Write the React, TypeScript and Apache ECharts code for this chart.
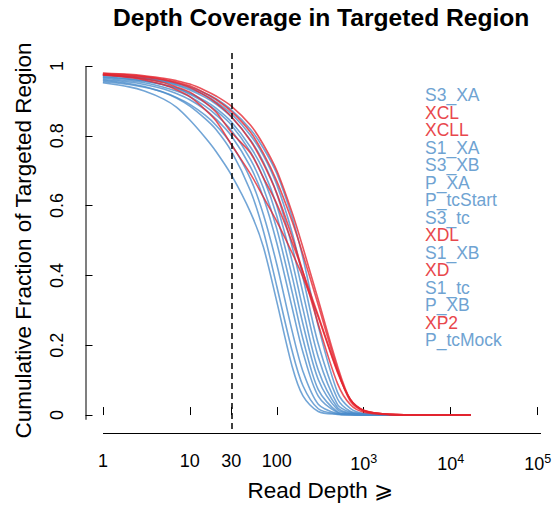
import React, { useEffect, useRef } from "react";
import * as echarts from "echarts";

// Read depth thresholds (x) shared by every sample curve
const depths = [1, 2, 3, 5, 7, 10, 15, 20, 30, 50, 70, 100, 150, 200, 300, 500, 700, 1000, 2000, 5000, 17000];

// Cumulative fraction of the targeted region covered at >= each depth
const S3_XA = [0.975, 0.97, 0.966, 0.958, 0.95, 0.94, 0.922, 0.906, 0.874, 0.818, 0.765, 0.692, 0.567, 0.45, 0.255, 0.065, 0.019, 0.004, 0, 0, 0];
const S1_XA = [0.974, 0.969, 0.964, 0.956, 0.947, 0.935, 0.916, 0.897, 0.863, 0.801, 0.744, 0.66, 0.523, 0.394, 0.204, 0.046, 0.011, 0.003, 0, 0, 0];
const S3_XB = [0.973, 0.968, 0.963, 0.954, 0.945, 0.931, 0.91, 0.891, 0.854, 0.787, 0.725, 0.634, 0.483, 0.35, 0.166, 0.03, 0.008, 0.002, 0, 0, 0];
const P_XA = [0.968, 0.962, 0.957, 0.946, 0.937, 0.922, 0.9, 0.879, 0.84, 0.767, 0.701, 0.6, 0.441, 0.304, 0.129, 0.021, 0.005, 0.002, 0, 0, 0];
const P_tcStart = [0.969, 0.963, 0.957, 0.946, 0.936, 0.919, 0.895, 0.872, 0.831, 0.753, 0.68, 0.57, 0.398, 0.261, 0.102, 0.015, 0.004, 0.001, 0, 0, 0];
const S3_tc = [0.965, 0.958, 0.952, 0.939, 0.928, 0.912, 0.885, 0.86, 0.816, 0.732, 0.651, 0.534, 0.353, 0.218, 0.073, 0.009, 0.003, 0.001, 0, 0, 0];
const S1_XB = [0.961, 0.954, 0.947, 0.934, 0.921, 0.903, 0.875, 0.848, 0.8, 0.71, 0.624, 0.493, 0.308, 0.18, 0.054, 0.007, 0.002, 0.001, 0, 0, 0];
const S1_tc = [0.955, 0.947, 0.939, 0.925, 0.91, 0.89, 0.859, 0.83, 0.776, 0.676, 0.575, 0.432, 0.241, 0.125, 0.031, 0.004, 0.001, 0, 0, 0, 0];
const P_XB = [0.959, 0.95, 0.941, 0.924, 0.908, 0.885, 0.849, 0.818, 0.756, 0.641, 0.528, 0.369, 0.184, 0.084, 0.018, 0.003, 0.001, 0, 0, 0, 0];
const P_tcMock = [0.952, 0.94, 0.928, 0.905, 0.882, 0.845, 0.795, 0.755, 0.688, 0.58, 0.482, 0.325, 0.14, 0.055, 0.01, 0.002, 0.001, 0, 0, 0, 0];
const XCL = [0.98, 0.976, 0.972, 0.965, 0.958, 0.948, 0.93, 0.914, 0.885, 0.83, 0.775, 0.7, 0.58, 0.48, 0.33, 0.14, 0.045, 0.013, 0.002, 0, 0];
const XCLL = [0.978, 0.974, 0.97, 0.962, 0.954, 0.943, 0.922, 0.904, 0.87, 0.81, 0.75, 0.67, 0.555, 0.46, 0.315, 0.13, 0.04, 0.011, 0.002, 0, 0];
const XDL = [0.976, 0.972, 0.968, 0.96, 0.951, 0.938, 0.915, 0.894, 0.855, 0.785, 0.72, 0.635, 0.51, 0.41, 0.26, 0.09, 0.03, 0.008, 0.001, 0, 0];
const XD = [0.975, 0.969, 0.963, 0.952, 0.94, 0.925, 0.895, 0.868, 0.81, 0.75, 0.68, 0.605, 0.495, 0.41, 0.285, 0.125, 0.045, 0.013, 0.002, 0, 0];
const XP2 = [0.974, 0.967, 0.96, 0.946, 0.932, 0.912, 0.875, 0.843, 0.775, 0.69, 0.625, 0.555, 0.465, 0.395, 0.28, 0.122, 0.045, 0.014, 0.002, 0, 0];

// Sample groups
const blueSamples: [string, number[]][] = [
  ["S3_XA", S3_XA], ["S1_XA", S1_XA], ["S3_XB", S3_XB], ["P_XA", P_XA], ["P_tcStart", P_tcStart],
  ["S3_tc", S3_tc], ["S1_XB", S1_XB], ["S1_tc", S1_tc], ["P_XB", P_XB], ["P_tcMock", P_tcMock],
];
const redSamples: [string, number[]][] = [
  ["XCL", XCL], ["XCLL", XCLL], ["XDL", XDL], ["XD", XD], ["XP2", XP2],
];

// Legend order
const legendOrder = [
  "S3_XA", "XCL", "XCLL", "S1_XA", "S3_XB", "P_XA", "P_tcStart", "S3_tc",
  "XDL", "S1_XB", "XD", "S1_tc", "P_XB", "XP2", "P_tcMock",
];
const redNames = ["XCL", "XCLL", "XDL", "XD", "XP2"];

// Axis ticks
const xTicks = [1, 10, 30, 100, 1000, 10000, 100000];
const yTicks = [0, 0.2, 0.4, 0.6, 0.8, 1];
const cutoff = 30;

const FONT = "Liberation Sans, Arial, Helvetica, sans-serif";
const BLUE_LINE = "rgba(74, 140, 202, 0.78)";
const RED_LINE = "rgba(228, 36, 46, 0.78)";
const BLUE_TEXT = "#6fa3d2";
const RED_TEXT = "#e8474c";

// plotting region padded 4% beyond the data range on each side
const X_MIN = Math.pow(10, -0.2);
const X_MAX = Math.pow(10, 5.2);
const Y_MIN = -0.04;
const Y_MAX = 1.04;

// chart size and plotting grid (pixels)
const W = 555;
const H = 507;
const G_LEFT = 85.5;
const G_RIGHT = -3.5;
const G_TOP = 52;
const G_BOTTOM = 73;

// pixel position of a value on each axis of that grid
const LOG_LO = Math.log10(X_MIN);
const LOG_HI = Math.log10(X_MAX);
const xPx = (v: number) =>
  G_LEFT + ((Math.log10(v) - LOG_LO) / (LOG_HI - LOG_LO)) * (W - G_LEFT - G_RIGHT);
const yPx = (v: number) => H - G_BOTTOM - ((v - Y_MIN) / (Y_MAX - Y_MIN)) * (H - G_TOP - G_BOTTOM);

export default function App() {
  const ref = useRef<HTMLDivElement>(null);

  useEffect(() => {
    if (!ref.current) return;
    const chart = echarts.init(ref.current, null, { renderer: "svg" });

    const curve = (name: string, vals: number[], color: string) => ({
      name,
      type: "line",
      data: depths.map((d, i) => [d, vals[i]]),
      showSymbol: false,
      symbol: "none",
      smooth: 0.3,
      lineStyle: { color, width: 1.6 },
      itemStyle: { color },
      z: 2,
    });

    const series: any[] = [
      ...blueSamples.map(([n, v]) => curve(n, v, BLUE_LINE)),
      ...redSamples.map(([n, v]) => curve(n, v, RED_LINE)),
    ];

    // depth cut-off marker
    series[0].markLine = {
      silent: true,
      symbol: ["none", "none"],
      label: { show: false },
      lineStyle: { color: "#000", type: [6, 4], width: 1.5 },
      data: [{ xAxis: cutoff }],
    };

    // axis lines running from the first to the last tick along the grid edges
    const xLineY = yPx(Y_MIN) - 0.5;
    const yLineX = xPx(X_MIN);
    const yTop = yPx(yTicks[yTicks.length - 1]);
    const yBottom = yPx(yTicks[0]);
    const graphic = [
      {
        type: "line",
        silent: true,
        z: 10,
        shape: { x1: xPx(xTicks[0]), y1: xLineY, x2: xPx(xTicks[xTicks.length - 1]), y2: xLineY },
        style: { stroke: "#000", lineWidth: 1 },
      },
      {
        type: "rect",
        silent: true,
        z: 10,
        shape: { x: yLineX, y: yTop, width: 1, height: yBottom - yTop },
        style: { fill: "#000" },
      },
    ];

    chart.setOption({
      animation: false,
      textStyle: { fontFamily: FONT },
      title: {
        text: "Depth Coverage in Targeted Region",
        left: 108,
        top: 0,
        textStyle: { fontFamily: FONT, fontSize: 24.6, fontWeight: "bold", color: "#000" },
      },
      legend: {
        orient: "vertical",
        left: 415,
        top: 81,
        icon: "none",
        itemWidth: 0,
        itemHeight: 0,
        itemGap: -0.5,
        selectedMode: false,
        textStyle: { fontFamily: FONT, fontSize: 17.5 },
        data: legendOrder.map((n) => ({
          name: n,
          textStyle: { color: redNames.includes(n) ? RED_TEXT : BLUE_TEXT },
        })),
      },
      grid: { left: G_LEFT, right: G_RIGHT, top: G_TOP, bottom: G_BOTTOM },
      xAxis: {
        type: "log",
        logBase: 10,
        min: X_MIN,
        max: X_MAX,
        name: "Read Depth \u2A7E",
        nameLocation: "middle",
        nameGap: 50,
        nameTextStyle: { fontFamily: FONT, fontSize: 22.5, color: "#000" },
        axisLine: { show: false },
        axisTick: {
          show: true,
          inside: true,
          length: 8,
          customValues: xTicks,
          lineStyle: { color: "#000", width: 1 },
        },
        axisLabel: {
          show: true,
          customValues: xTicks,
          margin: 23,
          fontSize: 18,
          color: "#000",
          fontFamily: FONT,
          formatter: (v: number) => {
            const r = Math.round(v);
            if (r < 1000) return String(r);
            return "10{s|" + Math.round(Math.log10(v)) + "}";
          },
          rich: {
            s: { fontSize: 12.5, fontFamily: FONT, color: "#000", padding: [0, 0, 11, 0] },
          },
        },
        splitLine: { show: false },
      },
      yAxis: {
        type: "value",
        min: Y_MIN,
        max: Y_MAX,
        name: "Cumulative Fraction of Targeted Region",
        nameLocation: "middle",
        nameGap: 51,
        nameRotate: 90,
        nameTextStyle: { fontFamily: FONT, fontSize: 22.5, color: "#000" },
        axisLine: { show: false },
        axisTick: {
          show: true,
          inside: true,
          length: 7,
          customValues: yTicks,
          lineStyle: { color: "#000", width: 1 },
        },
        axisLabel: {
          show: true,
          customValues: yTicks,
          rotate: 90,
          margin: 20,
          fontSize: 18,
          color: "#000",
          fontFamily: FONT,
          formatter: (v: number) => String(Math.round(v * 10) / 10),
        },
        splitLine: { show: false },
      },
      graphic,
      series,
    });

    return () => chart.dispose();
  }, []);

  return (
    <div
      ref={ref}
      style={{ position: "fixed", left: 0, top: 0, width: W, height: H, background: "#fff" }}
    />
  );
}
